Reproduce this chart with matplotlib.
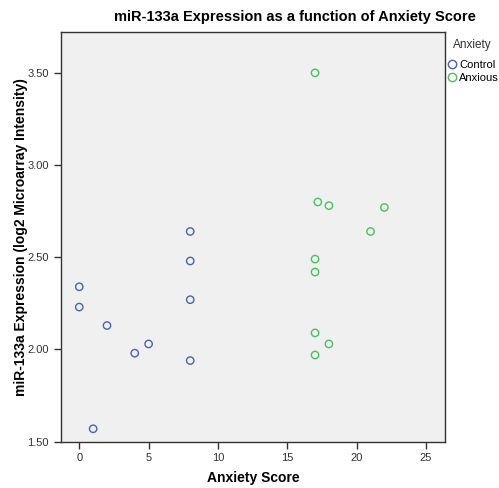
import matplotlib
matplotlib.use("Agg")
import matplotlib.pyplot as plt
from matplotlib.lines import Line2D

plt.rcParams['font.family'] = ['Liberation Sans', 'DejaVu Sans']

# Anxiety score vs miR-133a expression, by group
control_score = [0, 0, 1, 2, 4, 5, 8, 8, 8, 8]
control_expr = [2.34, 2.23, 1.57, 2.13, 1.98, 2.03, 2.64, 2.48, 2.27, 1.94]
anxious_score = [17, 17.2, 18, 22, 21, 17, 17, 17, 18, 17]
anxious_expr = [3.50, 2.80, 2.78, 2.77, 2.64, 2.49, 2.42, 2.09, 2.03, 1.97]

x_ticks = [0, 5, 10, 15, 20, 25]
y_ticks = [1.50, 2.00, 2.50, 3.00, 3.50]

blue = '#4a62b4'
green = '#45c25c'

fig = plt.figure(figsize=(4.99, 4.88), dpi=100)
ax = fig.add_axes([0.1216, 0.0949, 0.7702, 0.8389])
ax.set_facecolor('#f0f0f0')

ax.scatter(control_score, control_expr, s=28, facecolors='none',
           edgecolors=blue, linewidths=1.0, zorder=3)
ax.scatter(anxious_score, anxious_expr, s=28, facecolors='none',
           edgecolors=green, linewidths=1.0, zorder=3)

ax.set_xlim(-1.34, 26.37)
ax.set_ylim(1.50, 3.72)
ax.set_xticks(x_ticks)
ax.set_xticklabels([str(t) for t in x_ticks])
ax.set_yticks(y_ticks)
ax.set_yticklabels(['%.2f' % t for t in y_ticks])
ax.tick_params(labelsize=8, colors='#333333', length=5, width=1)
for sp in ax.spines.values():
    sp.set_color('#333333')
    sp.set_linewidth(1)

ax.set_xlabel('Anxiety Score', fontsize=10, fontweight='bold')
ax.set_ylabel('miR-133a Expression (log2 Microarray Intensity)',
              fontsize=10, fontweight='bold')
ax.xaxis.set_label_coords(0.5, -0.072)
ax.yaxis.set_label_coords(-0.085, 0.5)

fig.text(0.591, 0.966, 'miR-133a Expression as a function of Anxiety Score',
         ha='center', va='center', fontsize=10.5, fontweight='bold')

# legend on the right, title drawn separately
fig.text(0.946, 0.908, 'Anxiety', ha='center', va='center',
         fontsize=8.5, color='#333333')
handles = [
    Line2D([], [], marker='o', linestyle='none', markerfacecolor='none',
           markeredgecolor=blue, markersize=6, label='Control'),
    Line2D([], [], marker='o', linestyle='none', markerfacecolor='none',
           markeredgecolor=green, markersize=6, label='Anxious'),
]
leg = fig.legend(handles=handles, loc='upper left',
                 bbox_to_anchor=(0.899, 0.877), frameon=False, fontsize=8,
                 handlelength=0.7, handletextpad=0.25,
                 borderpad=0, labelspacing=0.25, borderaxespad=0)

fig.savefig('out.png', dpi=100)
